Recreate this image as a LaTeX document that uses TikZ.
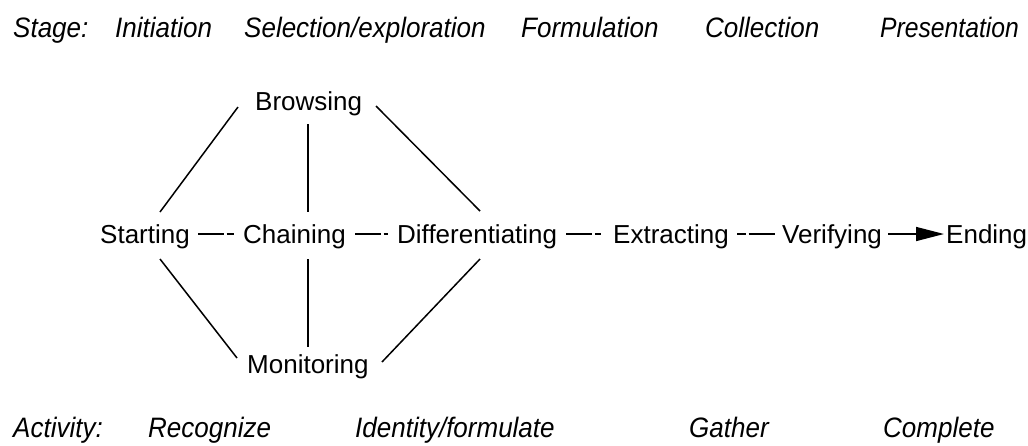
\documentclass[tikz,border=0pt]{standalone}
\usepackage{fontspec}
\setmainfont{Liberation Sans}
\usetikzlibrary{arrows.meta}
\begin{document}
\begin{tikzpicture}[x=1pt,y=-1pt,
  lbl/.style={anchor=base west,inner sep=0pt,font=\fontsize{26}{30}\selectfont},
  hdr/.style={anchor=base west,inner sep=0pt,font=\fontsize{26}{30}\selectfont\itshape},
  conn/.style={line width=1.5pt,black},
  dashA/.style={conn,dash pattern=on 26pt off 2.5pt on 7.5pt off 60pt},
  dashB/.style={conn,dash pattern=on 9pt off 2.5pt on 26pt off 60pt}]
\useasboundingbox (0,0) rectangle (1028,445);
% header row
\node[hdr] (stage) at (13,37) {\scalebox{1}[1.08]{Stage:}};
\node[hdr] (s1) at (115,37) {\scalebox{1}[1.08]{Initiation}};
\node[hdr] (s2) at (244,37) {\scalebox{1}[1.08]{Selection/exploration}};
\node[hdr] (s3) at (521,37) {\scalebox{1}[1.08]{Formulation}};
\node[hdr] (s4) at (705,37) {\scalebox{1}[1.08]{Collection}};
\node[hdr] (s5) at (880,37) {\scalebox{0.95}[1.08]{Presentation}};
% footer row
\node[hdr] (act) at (13,437) {\scalebox{1}[1.08]{Activity:}};
\node[hdr] (a1) at (148,437) {\scalebox{1}[1.08]{Recognize}};
\node[hdr] (a2) at (355,437) {\scalebox{1}[1.08]{Identity/formulate}};
\node[hdr] (a3) at (689,437) {\scalebox{1}[1.08]{Gather}};
\node[hdr] (a4) at (883,437) {\scalebox{1}[1.08]{Complete}};
% nodes
\node[lbl] (start) at (100,243) {Starting};
\node[lbl] (chain) at (243,243) {Chaining};
\node[lbl] (diff) at (397,243) {Differentiating};
\node[lbl] (extr) at (613,243) {Extracting};
\node[lbl] (veri) at (782,243) {Verifying};
\node[lbl] (end) at (946,243) {Ending};
\node[lbl] (brow) at (255,110) {Browsing};
\node[lbl] (moni) at (247,373) {Monitoring};
% diagonal / vertical connectors
\draw[conn] ([shift={(60,-31)}]start.base west) -- ([shift={(-17,-3)}]brow.base west);
\draw[conn] ([shift={(121,-4)}]brow.base west) -- ([shift={(83,-32)}]diff.base west);
\draw[conn] ([shift={(53,14)}]brow.base west) -- ([shift={(65,-31)}]chain.base west);
\draw[conn] ([shift={(65,16)}]chain.base west) -- ([shift={(61,-26)}]moni.base west);
\draw[conn] ([shift={(60,16)}]start.base west) -- ([shift={(-10,-15)}]moni.base west);
\draw[conn] ([shift={(83,16)}]diff.base west) -- ([shift={(135,-11)}]moni.base west);
% horizontal connectors
\draw[dashA] ([shift={(8,-9)}]start.base east) -- ([shift={(-9,-9)}]chain.base west);
\draw[dashA] ([shift={(9,-9)}]chain.base east) -- ([shift={(-9,-9)}]diff.base west);
\draw[dashA] ([shift={(9,-9)}]diff.base east) -- ([shift={(-12,-9)}]extr.base west);
\draw[dashB] ([shift={(8,-9)}]extr.base east) -- ([shift={(-7,-9)}]veri.base west);
\draw[conn,-{Triangle[length=28pt,width=14pt]}] ([shift={(6,-9)}]veri.base east) -- ([shift={(-2,-9)}]end.base west);
\end{tikzpicture}
\end{document}
